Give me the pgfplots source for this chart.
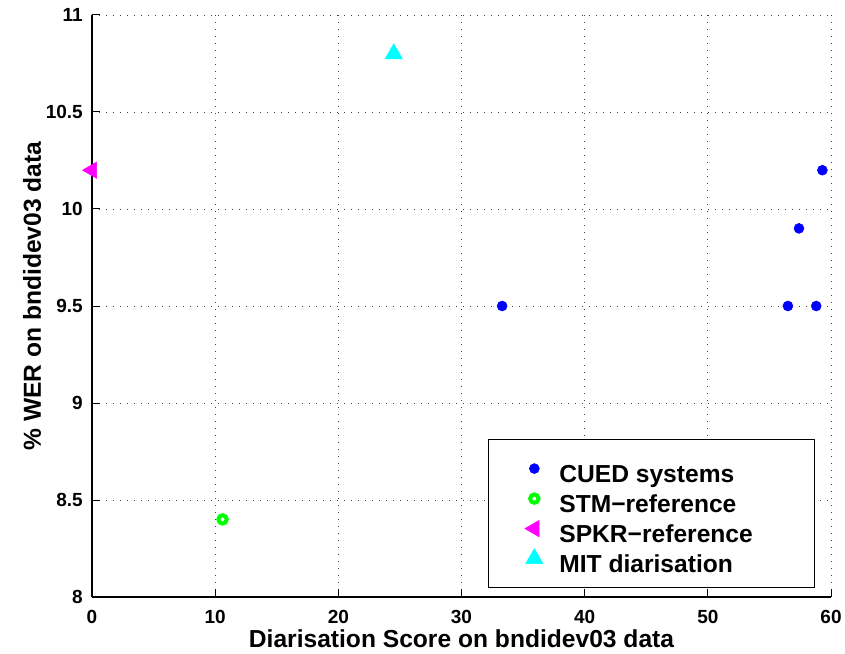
\documentclass[border=0pt]{standalone}
\usepackage{fontspec}
\setmainfont{Liberation Sans}
\usepackage{pgfplots}
\pgfplotsset{compat=1.18}
\definecolor{mblue}{rgb}{0,0,1}
\definecolor{mgreen}{rgb}{0,1,0}
\definecolor{mmag}{rgb}{1,0,1}
\definecolor{mcyan}{rgb}{0,1,1}
\begin{document}
\begin{tikzpicture}
\useasboundingbox (-92pt,-56pt) rectangle (753pt,597pt);
\begin{axis}[
  at={(0pt,0pt)}, anchor=south west,
  scale only axis, width=739pt, height=582pt,
  xmin=0, xmax=60, ymin=8, ymax=11,
  xtick={0,10,...,60}, ytick={8,8.5,...,11},
  yticklabels={8,8.5,9,9.5,10,10.5,11},
  axis x line*=bottom, axis y line*=left,
  axis line style={line width=1.2pt, -},
  tick align=inside, major tick length=8pt,
  tick style={line width=1pt, black},
  grid=major,
  major grid style={black!75, line width=0.9pt, dash pattern=on 1pt off 6pt},
  /pgf/number format/assume math mode=true,
  ticklabel style={font=\fontsize{19}{21}\selectfont\bfseries},
  xticklabel style={anchor=base, inner sep=0pt, yshift=-26pt},
  yticklabel style={anchor=east, inner sep=0pt, xshift=-9pt},
  xlabel={Diarisation Score on bndidev03 data},
  ylabel={\% WER on bndidev03 data},
  every axis x label/.style={at={(axis description cs:0.5,0)}, anchor=base, yshift=-50pt, font=\fontsize{24.6}{28}\selectfont\bfseries},
  every axis y label/.style={at={(axis description cs:-0.0812,0.517)}, rotate=90, anchor=center, font=\fontsize{24.6}{28}\selectfont\bfseries},
  legend image code/.code={\path (0pt,-6pt) rectangle (24pt,6pt); \draw[#1, only marks] plot coordinates {(12pt,0pt)};},
  legend cell align=left,
  legend style={at={(axis cs:32.14,8.814)}, anchor=north west,
    draw=black, line width=1pt, fill=white,
    inner xsep=34pt, inner ysep=13pt,
    column sep=13pt, row sep=-2pt,
    nodes={inner sep=0pt, text height=30pt, text depth=2pt},
    font=\fontsize{24.6}{28}\selectfont\bfseries},
]
\addplot[draw=none, mark=*, mark size=5pt, mark options={fill=mblue, draw=mblue, line width=0.5pt}]
  coordinates {(33.3,9.5) (56.5,9.5) (58.8,9.5) (57.4,9.9) (59.3,10.2)};
\addlegendentry{CUED systems}
\addplot[draw=none, mark=o, mark size=4.2pt, mark options={draw=mgreen, line width=4pt}]
  coordinates {(10.6,8.4)};
\addlegendentry{STM−reference}
\addplot[draw=none, mark=triangle*, mark size=9.5pt, mark options={fill=mmag, draw=mmag, rotate=90, line width=0.5pt}]
  coordinates {(0,10.2)};
\addlegendentry{SPKR−reference\hspace*{28pt}}
\addplot[draw=none, mark=triangle*, mark size=10pt, mark options={fill=mcyan, draw=mcyan, line width=0.5pt}]
  coordinates {(24.5,10.8)};
\addlegendentry{MIT diarisation}
\end{axis}
\end{tikzpicture}
\end{document}
